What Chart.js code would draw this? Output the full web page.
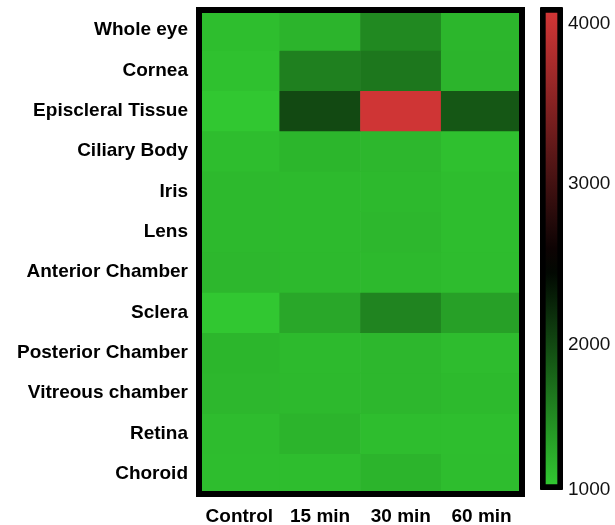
<!DOCTYPE html>
<html>
<head>
<meta charset="utf-8">
<script src="https://cdn.jsdelivr.net/npm/chart.js@4.4.1/dist/chart.umd.min.js"></script>
<style>
  body { margin: 0; background: #fff; }
  .wrap { position: relative; width: 615px; height: 525px; }
  .wrap canvas { position: absolute; left: 0; top: 0; }
</style>
</head>
<body>
<div class="wrap">
  <canvas id="heat" width="615" height="525"></canvas>
  <canvas id="scale" width="615" height="525"></canvas>
</div>
<script>
const timePoints = ['Control', '15 min', '30 min', '60 min'];
const tissues = [
  'Whole eye', 'Cornea', 'Episcleral Tissue', 'Ciliary Body', 'Iris', 'Lens',
  'Anterior Chamber', 'Sclera', 'Posterior Chamber', 'Vitreous chamber', 'Retina', 'Choroid'
];
// one array per tissue, in the order of timePoints
const wholeEye     = [1190, 1260, 1560, 1250];
const cornea       = [1170, 1620, 1680, 1260];
const episcleral   = [1130, 2000, 4050, 1900];
const ciliaryBody  = [1200, 1250, 1240, 1180];
const iris         = [1230, 1220, 1230, 1200];
const lens         = [1230, 1220, 1240, 1200];
const anterior     = [1240, 1230, 1230, 1210];
const sclera       = [1130, 1350, 1590, 1400];
const posterior    = [1250, 1220, 1240, 1210];
const vitreous     = [1240, 1230, 1240, 1220];
const retina       = [1210, 1260, 1200, 1190];
const choroid      = [1200, 1200, 1260, 1200];
const heatValues = [wholeEye, cornea, episcleral, ciliaryBody, iris, lens,
  anterior, sclera, posterior, vitreous, retina, choroid];

// colour scale: green -> black -> red
const scaleMin = 1090;
const scaleMid = 2500;
const scaleMax = 4106;
const scaleTickValues = [1090, 2000, 3000, 4000];
const scaleTickLabels = ['1000', '2000', '3000', '4000'];

const LOW = [50, 205, 50];
const HIGH = [214, 55, 55];

function colorFor(v) {
  let c;
  if (v <= scaleMid) {
    const t = Math.max(0, (v - scaleMin) / (scaleMid - scaleMin));
    c = LOW.map(x => Math.round(x * (1 - t)));
  } else {
    const t = Math.min(1, (v - scaleMid) / (scaleMax - scaleMid));
    c = HIGH.map(x => Math.round(x * t));
  }
  return `rgb(${c[0]}, ${c[1]}, ${c[2]})`;
}

const FONT = "'Liberation Sans', Arial, sans-serif";

const frame = {
  id: 'frame',
  afterDatasetsDraw(chart) {
    const { ctx, chartArea: a } = chart;
    ctx.save();
    ctx.strokeStyle = '#000';
    ctx.lineWidth = 6;
    ctx.strokeRect(a.left, a.top, a.right - a.left, a.bottom - a.top);
    ctx.restore();
  }
};

new Chart(document.getElementById('heat'), {
  type: 'bar',
  data: {
    labels: timePoints,
    datasets: tissues.map((name, i) => ({
      label: name,
      data: heatValues[i].map(() => [i, i + 1]),
      backgroundColor: heatValues[i].map(colorFor),
      borderWidth: 0,
      grouped: false,
      barPercentage: 1,
      categoryPercentage: 1
    }))
  },
  options: {
    responsive: false,
    animation: false,
    layout: { padding: { left: 0, top: 10, right: 93, bottom: 0 } },
    plugins: { legend: { display: false }, tooltip: { enabled: false } },
    scales: {
      x: {
        grid: { display: false, drawTicks: false },
        border: { display: false },
        afterFit: s => { s.height = 31; s.paddingLeft = 0; s.paddingRight = 0; },
        ticks: { color: '#000', padding: 11, maxRotation: 0, font: { family: FONT, size: 19, weight: 'bold' } }
      },
      y: {
        min: 0,
        max: tissues.length,
        reverse: true,
        grid: { display: false, drawTicks: false },
        border: { display: false },
        afterFit: s => { s.width = 199; s.paddingTop = 0; s.paddingBottom = 0; },
        afterBuildTicks: s => { s.ticks = tissues.map((_, i) => ({ value: i + 0.5 })); },
        ticks: {
          color: '#000',
          padding: 11,
          autoSkip: false,
          font: { family: FONT, size: 19, weight: 'bold' },
          callback: v => tissues[Math.floor(v)]
        }
      }
    }
  },
  plugins: [frame]
});

function barGradient(context) {
  const chart = context.chart;
  if (!chart.chartArea) return colorFor(scaleMin);
  const y = chart.scales.y;
  const g = chart.ctx.createLinearGradient(0, y.getPixelForValue(scaleMin), 0, y.getPixelForValue(scaleMax));
  const steps = 20;
  for (let k = 0; k <= steps; k++) {
    g.addColorStop(k / steps, colorFor(scaleMin + (scaleMax - scaleMin) * k / steps));
  }
  return g;
}

new Chart(document.getElementById('scale'), {
  type: 'bar',
  data: {
    labels: [''],
    datasets: [{
      data: [[scaleMin, scaleMax]],
      backgroundColor: barGradient,
      borderColor: '#000',
      borderWidth: 6,
      borderSkipped: false,
      borderRadius: 2,
      barPercentage: 1,
      categoryPercentage: 1
    }]
  },
  options: {
    responsive: false,
    animation: false,
    layout: { padding: { left: 540, top: 7, right: 0, bottom: 35 } },
    plugins: { legend: { display: false }, tooltip: { enabled: false } },
    scales: {
      x: { display: false },
      y: {
        position: 'right',
        min: scaleMin,
        max: scaleMax,
        grid: { display: false, drawTicks: false },
        border: { display: false },
        afterFit: s => { s.width = 52; s.paddingTop = 0; s.paddingBottom = 0; },
        afterBuildTicks: s => { s.ticks = scaleTickValues.map(v => ({ value: v })); },
        ticks: {
          color: '#111',
          padding: 5,
          font: { family: FONT, size: 19 },
          callback: v => scaleTickLabels[scaleTickValues.indexOf(v)]
        }
      }
    }
  }
});
</script>
</body>
</html>
